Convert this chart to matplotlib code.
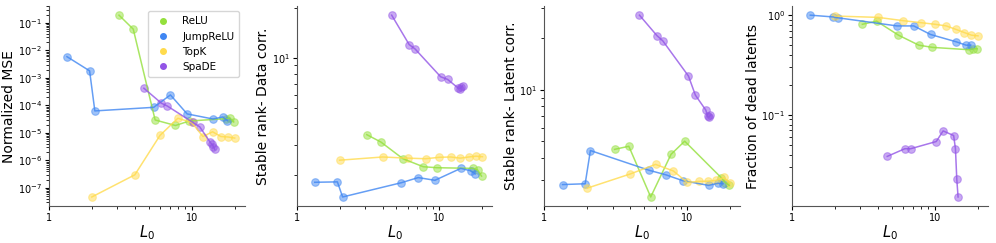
import matplotlib
matplotlib.use("Agg")
import matplotlib.pyplot as plt
from matplotlib.lines import Line2D

# L0 values per method
l0_relu = [3.1, 3.9, 5.55, 7.7, 9.6, 17.3, 18.5, 19.7]
l0_jump = [1.34, 1.93, 2.1, 5.42, 7.1, 9.3, 14.1, 16.5, 17.8]
l0_topk = [2, 4, 6, 8, 10, 12, 14, 16, 18, 20]
l0_spade = [4.63, 6.14, 6.75, 10.2, 11.4, 13.5, 13.9, 14.2, 14.5]

# normalized MSE
mse_relu = [0.19, 0.059, 2.95e-5, 1.86e-5, 2.7e-5, 3.3e-5, 3.5e-5, 2.5e-5]
mse_jump = [5.9e-3, 1.8e-3, 6.3e-5, 8.5e-5, 2.4e-4, 4.9e-5, 3.2e-5, 3.8e-5, 2.8e-5]
mse_topk = [4.7e-8, 3.0e-7, 8.1e-6, 3.4e-5, 2.4e-5, 7.4e-6, 1.1e-5, 7.4e-6, 7.1e-6, 6.5e-6]
mse_spade = [4.2e-4, 1.2e-4, 9.5e-5, 2.4e-5, 1.65e-5, 4.5e-6, 3.8e-6, 3.2e-6, 2.5e-6]

# stable rank - data corr.
srd_relu = [3.47, 3.13, 2.49, 2.23, 2.20, 2.18, 2.13, 1.96]
srd_jump = [1.80, 1.81, 1.47, 1.79, 1.92, 1.85, 2.18, 2.11, 2.02]
srd_topk = [2.44, 2.55, 2.51, 2.49, 2.54, 2.55, 2.51, 2.55, 2.58, 2.56]
srd_spade = [18.0, 12.0, 11.3, 7.7, 7.43, 6.6, 6.55, 6.65, 6.8]

# stable rank - latent corr.
srl_relu = [4.5, 4.69, 2.38, 4.21, 5.02, 3.08, 2.88, 2.78]
srl_jump = [2.81, 2.84, 4.43, 3.40, 3.2, 2.96, 2.78, 2.86, 2.84]
srl_topk = [2.68, 3.24, 3.68, 3.37, 2.89, 2.93, 2.94, 2.97, 3.09, 2.87]
srl_spade = [27.1, 20.6, 19.2, 12.0, 9.3, 7.6, 7.0, 6.9, 7.1]

# fraction of dead latents
dead_relu = [0.81, 0.87, 0.63, 0.50, 0.475, 0.45, 0.46, 0.46]
dead_jump = [1.0, 0.96, 0.94, 0.78, 0.78, 0.64, 0.54, 0.50, 0.50]
dead_topk = [0.98, 0.95, 0.88, 0.84, 0.81, 0.78, 0.72, 0.67, 0.63, 0.62]
dead_spade = [0.0383, 0.0457, 0.0457, 0.054, 0.069, 0.062, 0.0457, 0.0227, 0.015]

names = ["ReLU", "JumpReLU", "TopK", "SpaDE"]
colors = ["#94e03c", "#3f86f2", "#ffdb4d", "#9254e6"]
xs = [l0_relu, l0_jump, l0_topk, l0_spade]

panels = [
    ("Normalized MSE", [mse_relu, mse_jump, mse_topk, mse_spade]),
    ("Stable rank- Data corr.", [srd_relu, srd_jump, srd_topk, srd_spade]),
    ("Stable rank- Latent corr.", [srl_relu, srl_jump, srl_topk, srl_spade]),
    ("Fraction of dead latents", [dead_relu, dead_jump, dead_topk, dead_spade]),
]

fig, axes = plt.subplots(1, 4, figsize=(9.96, 2.43), dpi=100)
fig.subplots_adjust(left=0.049, right=0.992, bottom=0.152, top=0.975, wspace=0.265)

for ax, (ylabel, ys) in zip(axes, panels):
    for x, y, c in zip(xs, ys, colors):
        ax.plot(x, y, color=c, alpha=0.8, lw=1.1)
        ax.scatter(x, y, color=c, alpha=0.5, s=30, edgecolors=c, linewidths=0.8)
    ax.set_xscale("log")
    ax.set_yscale("log")
    ax.set_xlim(1, 23.5)
    ax.set_xticks([1, 10])
    ax.set_xticklabels(["1", "10"])
    ax.set_xlabel("$L_0$", fontsize=10.5, labelpad=0)
    ax.set_ylabel(ylabel, fontsize=10, labelpad=1)
    ax.tick_params(labelsize=7, pad=2, length=3)
    ax.tick_params(which="minor", length=2)
    for s in ["left", "bottom"]:
        ax.spines[s].set_color("#555555")
    ax.spines["top"].set_visible(False)
    ax.spines["right"].set_visible(False)

handles = [Line2D([], [], marker="o", ls="", color=c, markersize=4) for c in colors]
axes[0].legend(handles, names, loc="upper right", fontsize=7.5, handletextpad=0.8,
               borderpad=0.5, labelspacing=0.5)

fig.savefig("out.png")
